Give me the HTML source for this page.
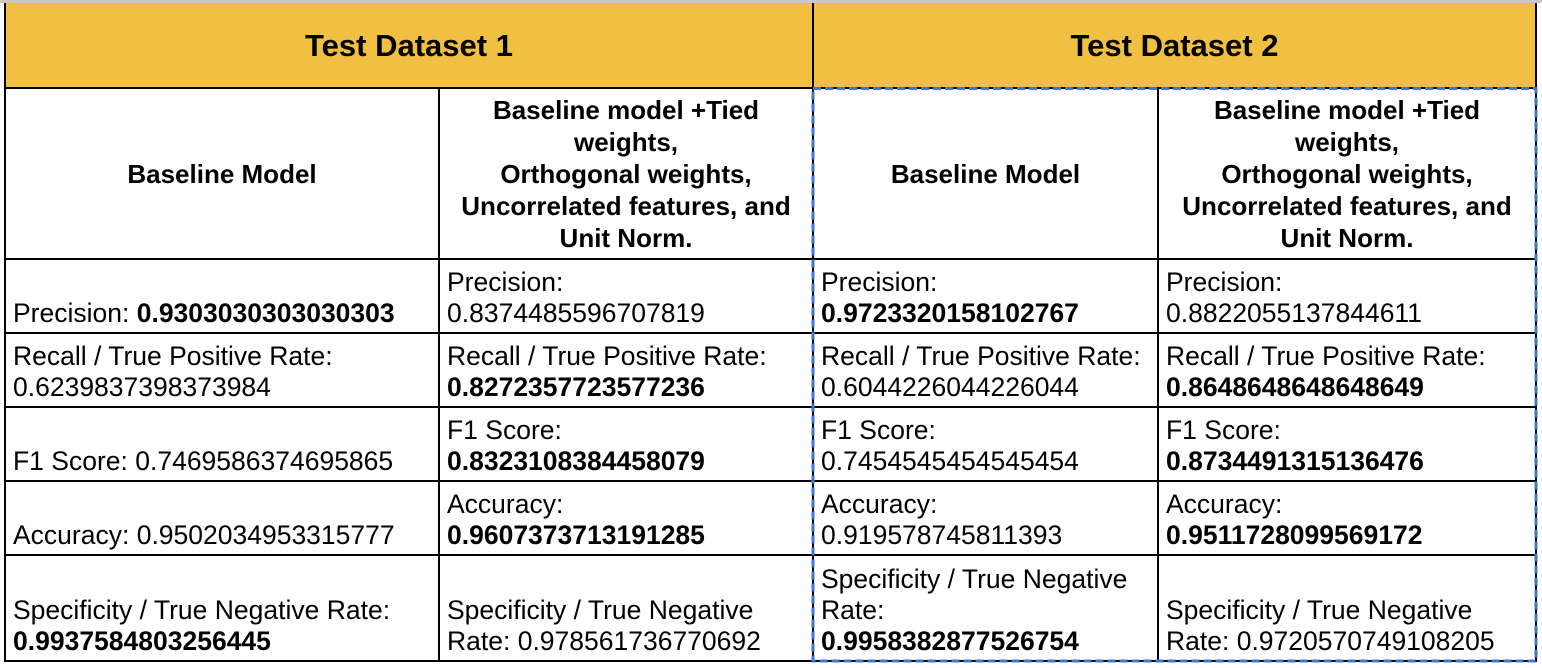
<!DOCTYPE html>
<html><head><style>
body{margin:0;width:1542px;height:668px;background:#fff;position:relative;overflow:hidden;font-family:"Liberation Sans",Arial,sans-serif;color:#000}
.topline{position:absolute;left:0;top:0;width:1542px;height:3px;background:#c8c8c8}
.c{position:absolute;box-sizing:border-box;display:flex;flex-direction:column;justify-content:flex-end;padding:0 2px 4px 8px;font-size:26.5px;line-height:31px;white-space:nowrap}
.h{position:absolute;box-sizing:border-box;display:flex;align-items:center;justify-content:center;text-align:center;font-weight:bold;font-size:26px;line-height:32px;white-space:nowrap}
.y{background:#f1bf42;font-size:31px}
.vl{position:absolute;width:2px;background:#000}
.hl{position:absolute;height:2px;background:#000}
b{font-weight:bold}
svg{position:absolute;left:0;top:0}
</style></head><body>
<div class="topline"></div>
<div class="h y" style="left:5px;top:3px;width:808px;height:85px">Test Dataset 1</div>
<div class="h y" style="left:813px;top:3px;width:723px;height:85px">Test Dataset 2</div>

<div class="h" style="left:5px;top:88px;width:434px;height:171px">Baseline Model</div>
<div class="h" style="left:439px;top:88px;width:374px;height:171px">Baseline model +Tied<br>weights,<br>Orthogonal weights,<br>Uncorrelated features, and<br>Unit Norm.</div>
<div class="h" style="left:813px;top:88px;width:345px;height:171px">Baseline Model</div>
<div class="h" style="left:1158px;top:88px;width:378px;height:171px">Baseline model +Tied<br>weights,<br>Orthogonal weights,<br>Uncorrelated features, and<br>Unit Norm.</div>

<div class="c" style="left:5px;top:259px;width:434px;height:74px"><div>Precision: <b>0.9303030303030303</b></div></div>
<div class="c" style="left:439px;top:259px;width:374px;height:74px"><div>Precision:<br>0.8374485596707819</div></div>
<div class="c" style="left:813px;top:259px;width:345px;height:74px"><div>Precision:<br><b>0.9723320158102767</b></div></div>
<div class="c" style="left:1158px;top:259px;width:378px;height:74px"><div>Precision:<br>0.8822055137844611</div></div>

<div class="c" style="left:5px;top:333px;width:434px;height:74px"><div>Recall / True Positive Rate:<br>0.6239837398373984</div></div>
<div class="c" style="left:439px;top:333px;width:374px;height:74px"><div>Recall / True Positive Rate:<br><b>0.8272357723577236</b></div></div>
<div class="c" style="left:813px;top:333px;width:345px;height:74px"><div>Recall / True Positive Rate:<br>0.6044226044226044</div></div>
<div class="c" style="left:1158px;top:333px;width:378px;height:74px"><div>Recall / True Positive Rate:<br><b>0.8648648648648649</b></div></div>

<div class="c" style="left:5px;top:407px;width:434px;height:74px"><div>F1 Score: 0.7469586374695865</div></div>
<div class="c" style="left:439px;top:407px;width:374px;height:74px"><div>F1 Score:<br><b>0.8323108384458079</b></div></div>
<div class="c" style="left:813px;top:407px;width:345px;height:74px"><div>F1 Score:<br>0.7454545454545454</div></div>
<div class="c" style="left:1158px;top:407px;width:378px;height:74px"><div>F1 Score:<br><b>0.8734491315136476</b></div></div>

<div class="c" style="left:5px;top:481px;width:434px;height:74px"><div>Accuracy: 0.9502034953315777</div></div>
<div class="c" style="left:439px;top:481px;width:374px;height:74px"><div>Accuracy:<br><b>0.9607373713191285</b></div></div>
<div class="c" style="left:813px;top:481px;width:345px;height:74px"><div>Accuracy:<br>0.919578745811393</div></div>
<div class="c" style="left:1158px;top:481px;width:378px;height:74px"><div>Accuracy:<br><b>0.9511728099569172</b></div></div>

<div class="c" style="left:5px;top:555px;width:434px;height:106px"><div>Specificity / True Negative Rate:<br><b>0.9937584803256445</b></div></div>
<div class="c" style="left:439px;top:555px;width:374px;height:106px"><div>Specificity / True Negative<br>Rate: 0.978561736770692</div></div>
<div class="c" style="left:813px;top:555px;width:345px;height:106px"><div>Specificity / True Negative<br>Rate:<br><b>0.9958382877526754</b></div></div>
<div class="c" style="left:1158px;top:555px;width:378px;height:106px"><div>Specificity / True Negative<br>Rate: 0.9720570749108205</div></div>

<div class="vl" style="left:4px;top:3px;height:659px"></div>
<div class="vl" style="left:438px;top:88px;height:574px"></div>
<div class="vl" style="left:812px;top:3px;height:659px"></div>
<div class="vl" style="left:1157px;top:88px;height:574px"></div>
<div class="vl" style="left:1535px;top:3px;height:659px"></div>
<div class="hl" style="left:4px;top:87px;width:1533px"></div>
<div class="hl" style="left:4px;top:258px;width:1533px"></div>
<div class="hl" style="left:4px;top:332px;width:1533px"></div>
<div class="hl" style="left:4px;top:406px;width:1533px"></div>
<div class="hl" style="left:4px;top:480px;width:1533px"></div>
<div class="hl" style="left:4px;top:554px;width:1533px"></div>
<div class="hl" style="left:4px;top:660px;width:1533px"></div>
<svg width="1542" height="668"><rect x="813" y="88.5" width="723" height="572.5" fill="none" stroke="#3c78d8" stroke-width="3" stroke-dasharray="8 4"/></svg>
</body></html>
